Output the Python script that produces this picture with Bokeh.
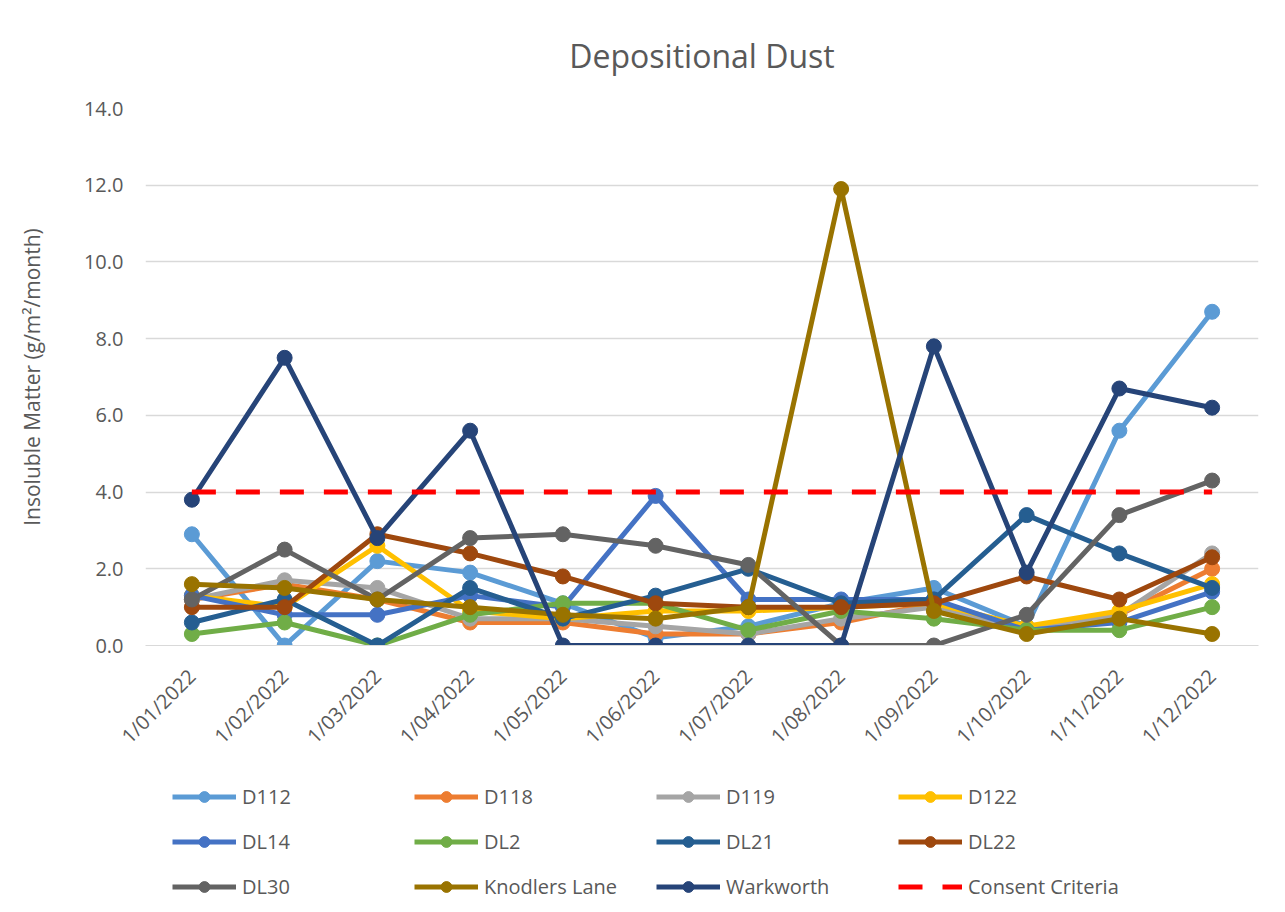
import math
from bokeh.plotting import figure
from bokeh.layouts import column
from bokeh.models import Legend, LegendItem, FactorRange, Range1d, NumeralTickFormatter, SingleIntervalTicker
from bokeh.embed import file_html
from bokeh.resources import INLINE

months = ["1/01/2022", "1/02/2022", "1/03/2022", "1/04/2022", "1/05/2022", "1/06/2022",
          "1/07/2022", "1/08/2022", "1/09/2022", "1/10/2022", "1/11/2022", "1/12/2022"]

d112 = [2.9, 0.0, 2.2, 1.9, 1.1, 0.2, 0.5, 1.1, 1.5, 0.5, 5.6, 8.7]
d118 = [1.2, 1.6, 1.2, 0.6, 0.6, 0.3, 0.3, 0.6, 1.1, 0.4, 0.8, 2.0]
d119 = [1.2, 1.7, 1.5, 0.7, 0.7, 0.5, 0.3, 0.7, 1.0, 0.4, 0.8, 2.4]
d122 = [1.3, 1.0, 2.6, 0.9, 0.7, 0.9, 0.9, 1.0, 1.1, 0.5, 0.9, 1.6]
dl14 = [1.3, 0.8, 0.8, 1.3, 1.0, 3.9, 1.2, 1.2, 1.2, 0.4, 0.6, 1.4]
dl2 = [0.3, 0.6, 0.0, 0.8, 1.1, 1.1, 0.4, 0.9, 0.7, 0.4, 0.4, 1.0]
dl21 = [0.6, 1.2, 0.0, 1.5, 0.7, 1.3, 2.0, 1.1, 1.2, 3.4, 2.4, 1.5]
dl22 = [1.0, 1.0, 2.9, 2.4, 1.8, 1.1, 1.0, 1.0, 1.1, 1.8, 1.2, 2.3]
dl30 = [1.2, 2.5, 1.2, 2.8, 2.9, 2.6, 2.1, 0.0, 0.0, 0.8, 3.4, 4.3]
knodlers = [1.6, 1.5, 1.2, 1.0, 0.8, 0.7, 1.0, 11.9, 0.9, 0.3, 0.7, 0.3]
warkworth = [3.8, 7.5, 2.8, 5.6, 0.0, 0.0, 0.0, 0.0, 7.8, 1.9, 6.7, 6.2]
consent = [4.0] * 12

series = [
    ("D112", d112, "#5B9BD5"),
    ("D118", d118, "#ED7D31"),
    ("D119", d119, "#A5A5A5"),
    ("D122", d122, "#FFC000"),
    ("DL14", dl14, "#4472C4"),
    ("DL2", dl2, "#70AD47"),
    ("DL21", dl21, "#255E91"),
    ("DL22", dl22, "#9E480E"),
    ("DL30", dl30, "#636363"),
    ("Knodlers Lane", knodlers, "#997300"),
    ("Warkworth", warkworth, "#264478"),
]

FONT = "Open Sans"
TXT = "#595959"
LW = 5
MS = 15

p = figure(width=1280, height=770, x_range=FactorRange(*months), y_range=Range1d(0, 14),
           output_backend="svg", toolbar_location=None, title="Depositional Dust",
           min_border_left=145, min_border_right=22, min_border_top=107, min_border_bottom=125)

p.title.align = "center"
p.title.text_font = FONT
p.title.text_font_size = "32px"
p.title.text_font_style = "normal"
p.title.text_color = TXT
p.title.standoff = 63

p.outline_line_color = None
p.background_fill_color = "white"
p.border_fill_color = "white"

p.yaxis.ticker = SingleIntervalTicker(interval=2)
p.yaxis.formatter = NumeralTickFormatter(format="0.0")
p.yaxis.axis_label = "Insoluble Matter (g/m²/month)"
p.yaxis.axis_label_text_font = FONT
p.yaxis.axis_label_text_font_size = "21px"
p.yaxis.axis_label_text_font_style = "normal"
p.yaxis.axis_label_text_color = TXT
p.yaxis.axis_label_standoff = 35
p.yaxis.axis_line_color = None
p.yaxis.major_label_standoff = 22

p.xaxis.major_label_orientation = math.pi / 4
p.xaxis.axis_line_color = "#d9d9d9"
p.xaxis.major_label_standoff = 27

for ax in (p.xaxis, p.yaxis):
    ax.major_tick_line_color = None
    ax.minor_tick_line_color = None
    ax.major_tick_out = 0
    ax.major_tick_in = 0
    ax.minor_tick_out = 0
    ax.major_label_text_font = FONT
    ax.major_label_text_font_size = "20px"
    ax.major_label_text_color = TXT

p.xgrid.grid_line_color = None
p.ygrid.grid_line_color = "#d9d9d9"
p.ygrid.grid_line_width = 1.5

for name, vals, col in series:
    p.line(months, vals, line_color=col, line_width=LW)
    p.scatter(months, vals, size=MS, fill_color=col, line_color=col)
p.line(months, consent, line_color="#FF0000", line_width=LW, line_dash="24 20")

# legend strip (separate figure, hidden renderers carry the legend glyph styles)
q = figure(width=1280, height=134, x_range=FactorRange(*months), y_range=Range1d(0, 14),
           output_backend="svg", toolbar_location=None, x_axis_location=None, y_axis_location=None,
           min_border=0)
q.outline_line_color = None
q.grid.grid_line_color = None
q.border_fill_color = "white"

items = []
for name, vals, col in series:
    r1 = q.line(months, vals, line_color=col, line_width=LW, visible=False)
    r2 = q.scatter(months, vals, size=MS, fill_color=col, line_color=col, visible=False)
    items.append(LegendItem(label=name, renderers=[r1, r2]))
rc = q.line(months, consent, line_color="#FF0000", line_width=LW, line_dash="24 20", visible=False)
items.append(LegendItem(label="Consent Criteria", renderers=[rc]))

lg = Legend(items=items, ncols=4, orientation="horizontal", location=(27, 4),
            glyph_width=64, glyph_height=27, label_standoff=6, label_width=154,
            label_height=27, spacing=18, padding=0, margin=0,
            label_text_font=FONT, label_text_font_size="20px", label_text_color=TXT,
            border_line_color=None, background_fill_alpha=0, inactive_fill_alpha=0)
q.add_layout(lg)

layout = column(p, q)
open("out.html", "w").write(file_html(layout, INLINE))
